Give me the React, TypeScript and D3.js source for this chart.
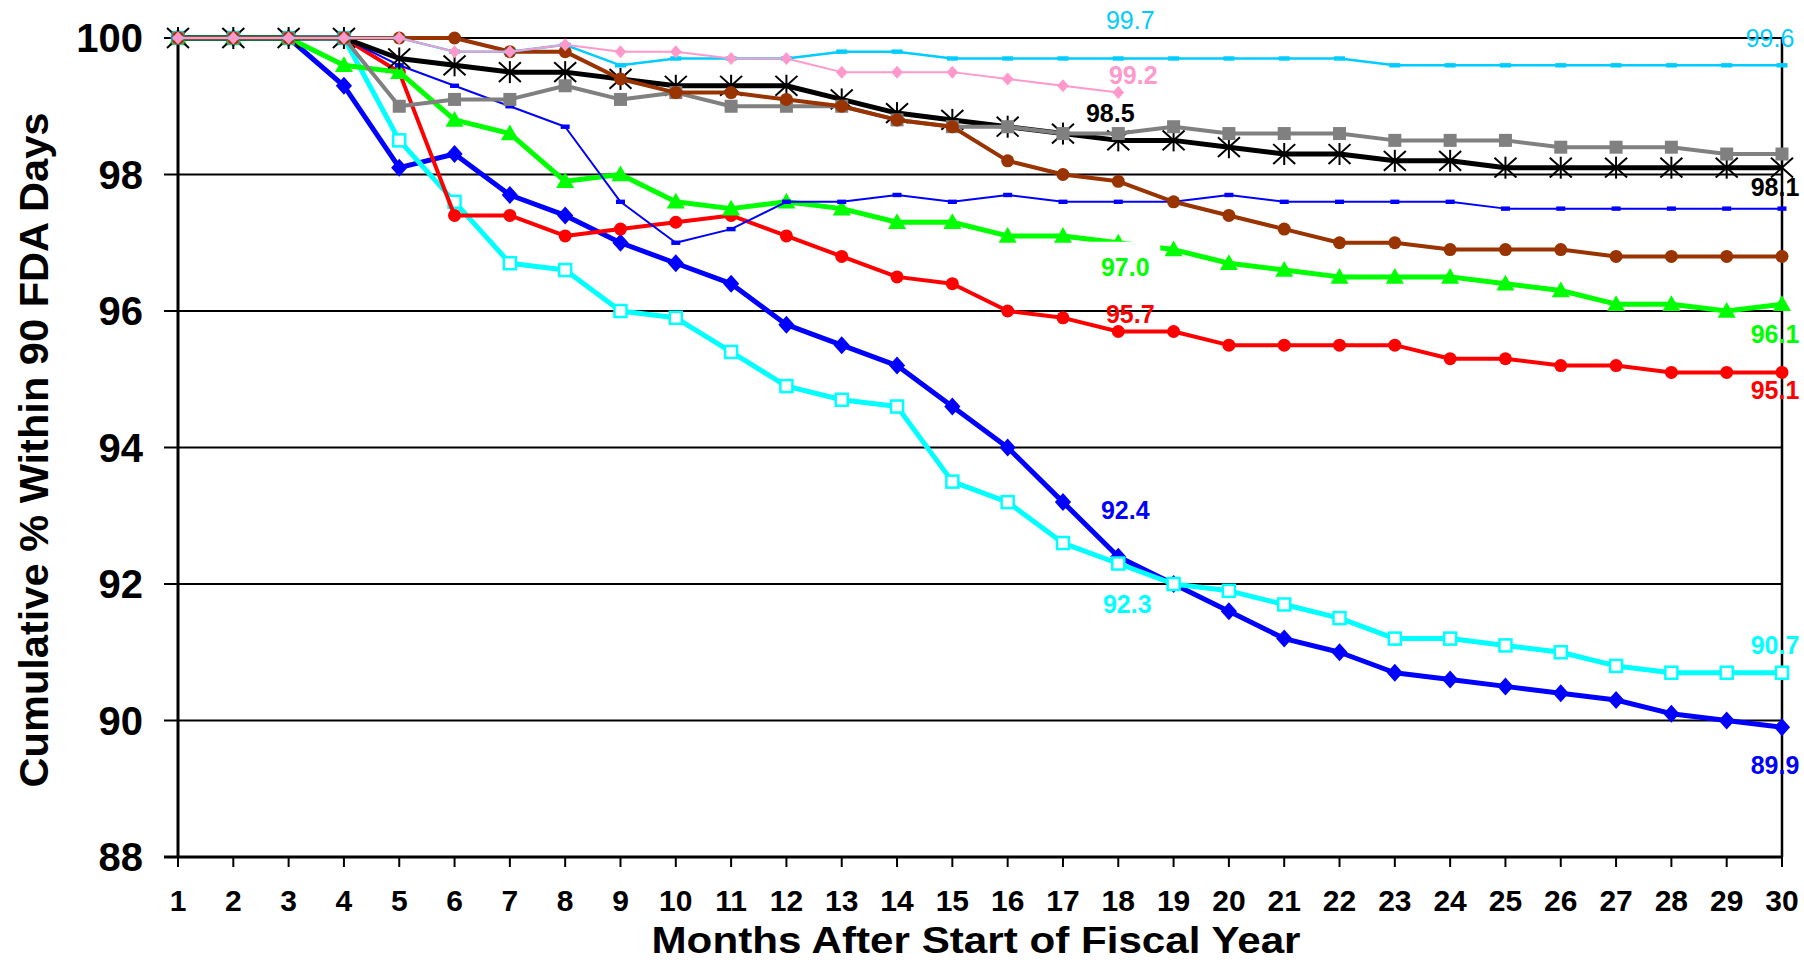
import React from 'react';
import * as d3 from 'd3';

// ---------- data ----------
const months = [1, 2, 3, 4, 5, 6, 7, 8, 9, 10, 11, 12, 13, 14, 15, 16, 17, 18, 19, 20, 21, 22, 23, 24, 25, 26, 27, 28, 29, 30];
const yTickValues = [88, 90, 92, 94, 96, 98, 100];

const blueDiamond = [100, 100, 100, 99.3, 98.1, 98.3, 97.7, 97.4, 97.0, 96.7, 96.4, 95.8, 95.5, 95.2, 94.6, 94.0, 93.2, 92.4, 92.0, 91.6, 91.2, 91.0, 90.7, 90.6, 90.5, 90.4, 90.3, 90.1, 90.0, 89.9];
const cyanSquare = [100, 100, 100, 100, 98.5, 97.6, 96.7, 96.6, 96.0, 95.9, 95.4, 94.9, 94.7, 94.6, 93.5, 93.2, 92.6, 92.3, 92.0, 91.9, 91.7, 91.5, 91.2, 91.2, 91.1, 91.0, 90.8, 90.7, 90.7, 90.7];
const redCircle = [100, 100, 100, 100, 99.5, 97.4, 97.4, 97.1, 97.2, 97.3, 97.4, 97.1, 96.8, 96.5, 96.4, 96.0, 95.9, 95.7, 95.7, 95.5, 95.5, 95.5, 95.5, 95.3, 95.3, 95.2, 95.2, 95.1, 95.1, 95.1];
const greenTriangle = [100, 100, 100, 99.6, 99.5, 98.8, 98.6, 97.9, 98.0, 97.6, 97.5, 97.6, 97.5, 97.3, 97.3, 97.1, 97.1, 97.0, 96.9, 96.7, 96.6, 96.5, 96.5, 96.5, 96.4, 96.3, 96.1, 96.1, 96.0, 96.1];
const thinBlueDash = [100, 100, 100, 100, 99.6, 99.3, 99.0, 98.7, 97.6, 97.0, 97.2, 97.6, 97.6, 97.7, 97.6, 97.7, 97.6, 97.6, 97.6, 97.7, 97.6, 97.6, 97.6, 97.6, 97.5, 97.5, 97.5, 97.5, 97.5, 97.5];
const blackStar = [100, 100, 100, 100, 99.7, 99.6, 99.5, 99.5, 99.4, 99.3, 99.3, 99.3, 99.1, 98.9, 98.8, 98.7, 98.6, 98.5, 98.5, 98.4, 98.3, 98.3, 98.2, 98.2, 98.1, 98.1, 98.1, 98.1, 98.1, 98.1];
const graySquare = [100, 100, 100, 100, 99.0, 99.1, 99.1, 99.3, 99.1, 99.2, 99.0, 99.0, 99.0, 98.8, 98.7, 98.7, 98.6, 98.6, 98.7, 98.6, 98.6, 98.6, 98.5, 98.5, 98.5, 98.4, 98.4, 98.4, 98.3, 98.3];
const brownCircle = [100, 100, 100, 100, 100, 100, 99.8, 99.8, 99.4, 99.2, 99.2, 99.1, 99.0, 98.8, 98.7, 98.2, 98.0, 97.9, 97.6, 97.4, 97.2, 97.0, 97.0, 96.9, 96.9, 96.9, 96.8, 96.8, 96.8, 96.8];
const lightBlueDash = [100, 100, 100, 100, 100, 99.8, 99.8, 99.9, 99.6, 99.7, 99.7, 99.7, 99.8, 99.8, 99.7, 99.7, 99.7, 99.7, 99.7, 99.7, 99.7, 99.7, 99.6, 99.6, 99.6, 99.6, 99.6, 99.6, 99.6, 99.6];
const pinkDiamond = [100, 100, 100, 100, 100, 99.8, 99.8, 99.9, 99.8, 99.8, 99.7, 99.7, 99.5, 99.5, 99.5, 99.4, 99.3, 99.2];

const yTitle = 'Cumulative % Within 90 FDA Days';
const xTitle = 'Months After Start of Fiscal Year';

// labelled points: series key + month
const labelPoints = [
  { key: 'lightBlue', month: 18 },
  { key: 'pink', month: 18 },
  { key: 'black', month: 18 },
  { key: 'green', month: 18 },
  { key: 'red', month: 18 },
  { key: 'blue', month: 18 },
  { key: 'cyan', month: 18 },
  { key: 'lightBlue', month: 30 },
  { key: 'black', month: 30 },
  { key: 'green', month: 30 },
  { key: 'red', month: 30 },
  { key: 'cyan', month: 30 },
  { key: 'blue', month: 30 },
];

// ---------- styles / layout ----------
type Marker = 'diamond' | 'squareOpen' | 'circle' | 'triangle' | 'dash' | 'star' | 'square';
interface SeriesStyle { key: string; values: number[]; color: string; width: number; marker: Marker; size: number; labelWeight: string }

const seriesList: SeriesStyle[] = [
  { key: 'blue', values: blueDiamond, color: '#0000FF', width: 5, marker: 'diamond', size: 9, labelWeight: 'bold' },
  { key: 'cyan', values: cyanSquare, color: '#00FFFF', width: 5, marker: 'squareOpen', size: 6, labelWeight: 'bold' },
  { key: 'red', values: redCircle, color: '#FF0000', width: 4, marker: 'circle', size: 6.5, labelWeight: 'bold' },
  { key: 'green', values: greenTriangle, color: '#00FF00', width: 5, marker: 'triangle', size: 9, labelWeight: 'bold' },
  { key: 'thinBlue', values: thinBlueDash, color: '#0000FF', width: 2, marker: 'dash', size: 4.5, labelWeight: 'bold' },
  { key: 'black', values: blackStar, color: '#000000', width: 5, marker: 'star', size: 11, labelWeight: 'bold' },
  { key: 'gray', values: graySquare, color: '#808080', width: 4, marker: 'square', size: 6.5, labelWeight: 'bold' },
  { key: 'brown', values: brownCircle, color: '#993300', width: 4, marker: 'circle', size: 6.5, labelWeight: 'bold' },
  { key: 'lightBlue', values: lightBlueDash, color: '#00CCFF', width: 2.5, marker: 'dash', size: 5.5, labelWeight: 'normal' },
  { key: 'pink', values: pinkDiamond, color: '#FF99CC', width: 2, marker: 'diamond', size: 6.5, labelWeight: 'bold' },
];

// label offsets (center of text relative to point), px
const labelOffsets: Record<string, [number, number]> = {
  'lightBlue-18': [12, -38], 'pink-18': [15, -18], 'black-18': [-8, -27], 'green-18': [7, 24],
  'red-18': [12, -17], 'blue-18': [7, -47], 'cyan-18': [9, 40],
  'lightBlue-30': [-12, -27], 'black-30': [-7, 19], 'green-30': [-7, 30], 'red-30': [-7, 18],
  'cyan-30': [-7, -28], 'blue-30': [-7, 38],
};

const W = 1804;
const H = 962;
const FONT = '"Liberation Sans", Arial, Helvetica, sans-serif';

const x = d3.scaleLinear().domain([1, 30]).range([178, 1782]);
const y = d3.scaleLinear().domain([88, 100]).range([857, 38]);

function MarkerShape({ m, cx, cy, color, s }: { m: Marker; cx: number; cy: number; color: string; s: number }) {
  switch (m) {
    case 'diamond':
      return <path d={`M${cx},${cy - s}L${cx + s * 0.9},${cy}L${cx},${cy + s}L${cx - s * 0.9},${cy}Z`} fill={color} />;
    case 'squareOpen':
      return <rect x={cx - s} y={cy - s} width={2 * s} height={2 * s} fill="#fff" stroke={color} strokeWidth={2.5} />;
    case 'square':
      return <rect x={cx - s} y={cy - s} width={2 * s} height={2 * s} fill={color} />;
    case 'circle':
      return <circle cx={cx} cy={cy} r={s} fill={color} />;
    case 'triangle':
      return <path d={`M${cx},${cy - s}L${cx + s},${cy + s * 0.75}L${cx - s},${cy + s * 0.75}Z`} fill={color} />;
    case 'dash':
      return <rect x={cx - s} y={cy - 2.2} width={2 * s} height={4.4} fill={color} />;
    case 'star':
      return (
        <g stroke={color} strokeWidth={2}>
          <line x1={cx} y1={cy - s} x2={cx} y2={cy + s} />
          <line x1={cx - s} y1={cy - s * 0.9} x2={cx + s} y2={cy + s * 0.9} />
          <line x1={cx - s} y1={cy + s * 0.9} x2={cx + s} y2={cy - s * 0.9} />
        </g>
      );
  }
  return null;
}

export default function App() {
  const line = d3.line<number>().x((_, i) => x(months[i])).y((v) => y(v));
  const fmt = d3.format('.1f');
  const byKey: Record<string, SeriesStyle> = {};
  seriesList.forEach((s) => (byKey[s.key] = s));

  const greenLabelX = x(18) + labelOffsets['green-18'][0];
  const greenLabelY = y(greenTriangle[17]) + labelOffsets['green-18'][1];

  return (
    <svg width={W} height={H} viewBox={`0 0 ${W} ${H}`} style={{ position: 'absolute', left: 0, top: 0, background: '#fff' }}>
      <rect x={0} y={0} width={W} height={H} fill="#fff" />
      {/* gridlines */}
      {yTickValues.map((v) => (
        <line key={'g' + v} x1={x(1) - 14} x2={x(30)} y1={y(v)} y2={y(v)} stroke="#000" strokeWidth={2} />
      ))}
      {/* right border */}
      <line x1={x(30)} x2={x(30)} y1={y(100)} y2={y(88)} stroke="#000" strokeWidth={2.5} />
      {/* x ticks */}
      {months.map((m) => (
        <line key={'t' + m} x1={x(m)} x2={x(m)} y1={y(88)} y2={y(88) + 10} stroke="#000" strokeWidth={2} />
      ))}
      {/* axes */}
      <line x1={x(1)} x2={x(1)} y1={y(100)} y2={y(88)} stroke="#000" strokeWidth={3} />
      <line x1={x(1) - 14} x2={x(30)} y1={y(88)} y2={y(88)} stroke="#000" strokeWidth={3} />

      {/* y tick labels */}
      {yTickValues.map((v) => (
        <text key={'yl' + v} x={143} y={y(v) + 14} textAnchor="end" fontFamily={FONT} fontWeight="bold" fontSize={40} fill="#000">
          {v}
        </text>
      ))}
      {/* x tick labels */}
      {months.map((m) => (
        <text key={'xl' + m} x={x(m)} y={911} textAnchor="middle" fontFamily={FONT} fontWeight="bold" fontSize={30} fill="#000">
          {m}
        </text>
      ))}

      {/* series */}
      {seriesList.map((s) => (
        <g key={s.key}>
          <path d={line(s.values) || ''} fill="none" stroke={s.color} strokeWidth={s.width} strokeLinejoin="round" />
          {s.values.map((v, i) => (
            <MarkerShape key={i} m={s.marker} cx={x(months[i])} cy={y(v)} color={s.color} s={s.size} />
          ))}
        </g>
      ))}

      {/* white box behind the green month-18 label */}
      <rect x={greenLabelX - 40} y={y(greenTriangle[17]) - 1} width={75} height={greenLabelY - y(greenTriangle[17]) + 22} fill="#fff" />

      {/* data labels */}
      {labelPoints.map((lp) => {
        const s = byKey[lp.key];
        const v = s.values[lp.month - 1];
        const off = labelOffsets[`${lp.key}-${lp.month}`];
        return (
          <text
            key={`${lp.key}-${lp.month}`}
            x={x(lp.month) + off[0]}
            y={y(v) + off[1] + 9}
            textAnchor="middle"
            fontFamily={FONT}
            fontWeight={s.labelWeight}
            fontSize={25}
            fill={s.color}
          >
            {fmt(v)}
          </text>
        );
      })}

      {/* axis titles */}
      <text x={976} y={953} textAnchor="middle" fontFamily={FONT} fontWeight="bold" fontSize={37} textLength={649} lengthAdjust="spacingAndGlyphs" fill="#000">
        {xTitle}
      </text>
      <text
        transform={`translate(48,450) rotate(-90)`}
        textAnchor="middle"
        fontFamily={FONT}
        fontWeight="bold"
        fontSize={41}
        textLength={675}
        lengthAdjust="spacingAndGlyphs"
        fill="#000"
      >
        {yTitle}
      </text>
    </svg>
  );
}
